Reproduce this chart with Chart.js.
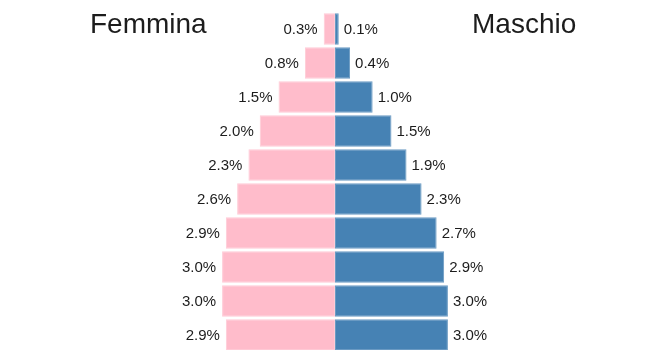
<!DOCTYPE html>
<html>
<head>
<meta charset="utf-8">
<script src="https://cdn.jsdelivr.net/npm/chart.js@4"></script>
<style>
  html, body { margin: 0; padding: 0; background: #fff; overflow: hidden; }
  #wrap { position: relative; width: 670px; height: 352px; }
</style>
</head>
<body>
<div id="wrap"><canvas id="myChart"></canvas></div>
<script>
// age classes, top row first (not printed on the chart)
const ageGroups = ['90+', '80-89', '70-79', '60-69', '50-59', '40-49', '30-39', '20-29', '10-19', '0-9'];
const femalePct = [0.3, 0.8, 1.5, 2.0, 2.3, 2.6, 2.9, 3.0, 3.0, 2.9];
const malePct = [0.1, 0.4, 1.0, 1.5, 1.9, 2.3, 2.7, 2.9, 3.0, 3.0];
const sideTitles = ['Femmina', 'Maschio'];

const labelFont = '15px "Liberation Sans", Arial, sans-serif';
const titleFont = '28px "Liberation Sans", Arial, sans-serif';

// draws the percentage next to each bar plus the two side titles
const pyramidLabels = {
    id: 'pyramidLabels',
    afterDatasetsDraw(chart) {
        const ctx = chart.ctx;
        ctx.save();
        ctx.font = labelFont;
        ctx.fillStyle = '#1c1c1c';
        ctx.textBaseline = 'middle';
        chart.data.datasets.forEach(function (ds, i) {
            const meta = chart.getDatasetMeta(i);
            meta.data.forEach(function (bar, j) {
                const txt = Math.abs(ds.data[j]).toFixed(1) + '%';
                if (ds.data[j] < 0) {
                    ctx.textAlign = 'right';
                    ctx.fillText(txt, bar.x - 6, bar.y + 1);
                } else {
                    ctx.textAlign = 'left';
                    ctx.fillText(txt, bar.x + 5, bar.y + 1);
                }
            });
        });
        ctx.font = titleFont;
        ctx.textBaseline = 'alphabetic';
        ctx.textAlign = 'left';
        ctx.fillText(sideTitles[0], 90, 33);
        ctx.fillText(sideTitles[1], 472, 33);
        ctx.restore();
    }
};

const ctx = document.getElementById('myChart').getContext('2d');
new Chart(ctx, {
    type: 'bar',
    data: {
        labels: ageGroups,
        datasets: [{
            label: sideTitles[0],
            data: femalePct.map(v => -v),
            backgroundColor: '#ffbccb',
            borderColor: '#ffcbd6',
            borderWidth: 1,
            borderSkipped: false,
            barPercentage: 0.93,
            categoryPercentage: 1
        }, {
            label: sideTitles[1],
            data: malePct,
            backgroundColor: '#4682b4',
            borderColor: '#6b9bc3',
            borderWidth: 1,
            borderSkipped: false,
            barPercentage: 0.93,
            categoryPercentage: 1
        }]
    },
    options: {
        indexAxis: 'y',
        responsive: true,
        maintainAspectRatio: false,
        animation: false,
        layout: { padding: { top: 12, bottom: 0, left: 0, right: 0 } },
        plugins: {
            legend: { display: false },
            tooltip: { enabled: false }
        },
        scales: {
            x: { stacked: true, min: -8.9, max: 8.9, display: false },
            y: { stacked: true, display: false }
        }
    },
    plugins: [pyramidLabels]
});
</script>
</body>
</html>
